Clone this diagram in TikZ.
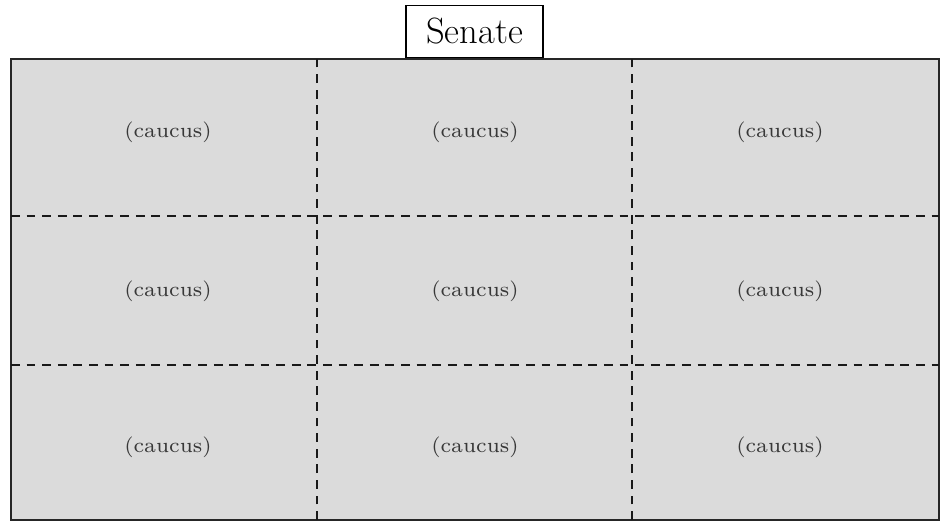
\documentclass[tikz,border=0pt]{standalone}
\usepackage{tikz}
\tikzstyle{chamber}=[draw=black!85,fill=black!14,line width=1.8pt]
\tikzstyle{divider}=[draw=black!90,line width=1.8pt,
                     dash pattern=on 0.22cm off 0.17cm]
\tikzstyle{caucusbox}=[text=black!78,font=\scriptsize,
                       scale=2.12,transform shape]
\tikzstyle{titlebox}=[draw=black,fill=white,line width=1.4pt,
                      minimum width=3.42cm,minimum height=1.3cm,
                      inner sep=0pt,font=\fontsize{26}{30}\selectfont]

\begin{document}
\begin{tikzpicture}[x=0.025cm,y=0.025cm]
    \useasboundingbox (0,0) rectangle (942,522);
    \draw[chamber] (11,2) rectangle (939,463);
    \foreach \xv in {317,632}
      \draw[divider] (\xv,2) -- (\xv,463);
    \foreach \yv in {157,306}
      \draw[divider] (11,\yv) -- (939,\yv);
    \foreach \xc/\i in {168/1,475/2,780/3} {
      \foreach \yc/\j in {390/1,231/2,75/3} {
        \node (c-\j-\i) at (\xc,\yc) [caucusbox]{(caucus)};
      }
    }
    \node (senate) at (474.5,490.5) [titlebox]{Senate};
  \end{tikzpicture}
\end{document}
